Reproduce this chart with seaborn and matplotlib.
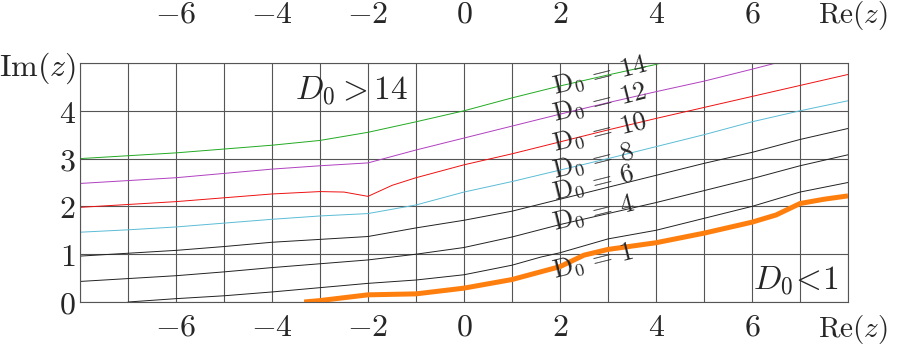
import numpy as np
import pandas as pd
import seaborn as sns
import matplotlib.pyplot as plt

# curve data (x = Re(z), y = Im(z))
x_14 = [-8, -7, -6, -5, -4, -3, -2, -1, 0, 1, 2, 3, 4, 4.1]
y_14 = [3.0, 3.06, 3.12, 3.2, 3.28, 3.38, 3.55, 3.77, 4.0, 4.27, 4.52, 4.75, 4.97, 5.0]

x_12 = [-8, -7, -6, -5, -4, -3, -2, -1, 0, 1, 2, 3, 4, 5, 6, 6.5]
y_12 = [2.48, 2.54, 2.6, 2.69, 2.78, 2.85, 2.91, 3.18, 3.43, 3.68, 3.93, 4.17, 4.4, 4.62, 4.87, 5.0]

x_10 = [-8, -7, -6, -5, -4, -3, -2.5, -2, -1.5, -1, 0, 1, 2, 3, 4, 5, 6, 7, 8]
y_10 = [1.98, 2.04, 2.1, 2.18, 2.26, 2.31, 2.3, 2.21, 2.44, 2.6, 2.87, 3.1, 3.35, 3.6, 3.84, 4.07, 4.3, 4.53, 4.76]

x_8 = [-8, -7, -6, -5, -4, -3, -2, -1, 0, 1, 2, 3, 4, 5, 6, 7, 8]
y_8 = [1.46, 1.51, 1.57, 1.65, 1.73, 1.8, 1.85, 2.03, 2.3, 2.52, 2.76, 3.0, 3.25, 3.5, 3.77, 4.0, 4.21]

x_6 = [-8, -7, -6, -5, -4, -3, -2, -1, 0, 1, 2, 3, 4, 5, 6, 7, 8]
y_6 = [0.96, 1.02, 1.08, 1.16, 1.25, 1.31, 1.37, 1.55, 1.71, 1.9, 2.15, 2.4, 2.65, 2.9, 3.13, 3.4, 3.63]

x_4 = [-8, -7, -6, -5, -4, -3, -2, -1, 0, 1, 2, 3, 4, 5, 6, 7, 8]
y_4 = [0.43, 0.49, 0.55, 0.63, 0.72, 0.8, 0.88, 1.0, 1.14, 1.36, 1.62, 1.85, 2.08, 2.33, 2.58, 2.85, 3.08]

x_2 = [-7, -6, -5, -4, -3, -2, -1, 0, 1, 1.6, 2, 3, 4, 5, 6, 7, 8]
y_2 = [0.0, 0.07, 0.13, 0.21, 0.3, 0.39, 0.46, 0.57, 0.77, 0.94, 1.03, 1.32, 1.5, 1.75, 2.0, 2.3, 2.5]

x_1 = [-3.33, -3, -2, -1, 0, 1, 2, 2.5, 3, 4, 5, 6, 6.5, 7, 7.5, 8]
y_1 = [0.0, 0.03, 0.15, 0.17, 0.29, 0.47, 0.74, 0.98, 1.1, 1.24, 1.44, 1.67, 1.82, 2.06, 2.15, 2.22]

label_text = ["14", "12", "10", "8", "6", "4", "1"]
label_y = [4.49, 3.92, 3.29, 2.73, 2.27, 1.65, 0.65]

curves = [("14", x_14, y_14), ("12", x_12, y_12), ("10", x_10, y_10), ("8", x_8, y_8),
          ("6", x_6, y_6), ("4", x_4, y_4), ("2", x_2, y_2)]
df = pd.concat([pd.DataFrame({"re": xs, "im": ys, "D0": name}) for name, xs, ys in curves])
df_1 = pd.DataFrame({"re": x_1, "im": y_1})

palette = {"14": "#22aa22", "12": "#b040c0", "10": "#ee1111", "8": "#5bbcd6",
           "6": "#222222", "4": "#222222", "2": "#222222"}

sns.set_style("white")
plt.rcParams["mathtext.fontset"] = "cm"

fig = plt.figure(figsize=(8.99, 3.44), dpi=100)
ax = fig.add_axes([80 / 899, 1 - 302 / 344, 768 / 899, 239 / 344])

sns.lineplot(data=df, x="re", y="im", hue="D0", palette=palette, estimator=None,
             sort=False, linewidth=0.7, legend=False, ax=ax)
sns.lineplot(data=df_1, x="re", y="im", color="#ff7f0e", estimator=None, sort=False,
             linewidth=3.6, ax=ax, solid_capstyle="butt")

ax.set_xlim(-8, 8)
ax.set_ylim(0, 5)
ax.set_xlabel("")
ax.set_ylabel("")

ax.set_xticks(range(-8, 9), minor=True)
ax.set_xticks([-6, -4, -2, 0, 2, 4, 6])
ax.set_xticklabels([f"${v}$" for v in [-6, -4, -2, 0, 2, 4, 6]])
ax.set_yticks(range(0, 6))
ax.set_yticklabels(["$0$", "$1$", "$2$", "$3$", "$4$", r"$\mathrm{Im}(z)$"])
ax.grid(True, which="both", color="#555555", linewidth=0.8)
ax.tick_params(which="both", length=0, labelsize=23)
ax.tick_params(axis="x", pad=7)
ax.tick_params(axis="y", pad=3)
for s in ax.spines.values():
    s.set_color("#555555")
    s.set_linewidth(0.8)

top = ax.secondary_xaxis("top")
top.set_xticks([-6, -4, -2, 0, 2, 4, 6])
top.set_xticklabels([f"${v}$" for v in [-6, -4, -2, 0, 2, 4, 6]])
top.tick_params(length=0, labelsize=23, pad=24)
top.spines["top"].set_visible(False)

ax.text(8.1, 1 + 48 / 239, r"$\mathrm{Re}(z)$", fontsize=21, ha="center", va="center",
        transform=ax.get_xaxis_transform(), clip_on=False)
ax.text(8.1, -27 / 239, r"$\mathrm{Re}(z)$", fontsize=21, ha="center", va="center",
        transform=ax.get_xaxis_transform(), clip_on=False)

for t, y in zip(label_text, label_y):
    ax.text(1.86, y, r"$\mathrm{D}_0 \,=\, " + t + "$", fontsize=19, ha="left", va="center",
            rotation=14, rotation_mode="anchor")

ax.text(-2.35, 4.42, r"$D_0 > 14$", fontsize=24, ha="center", va="center")
ax.text(6.92, 0.46, r"$D_0\!<\!1$", fontsize=24, ha="center", va="center")

fig.savefig("out.png", dpi=100)
